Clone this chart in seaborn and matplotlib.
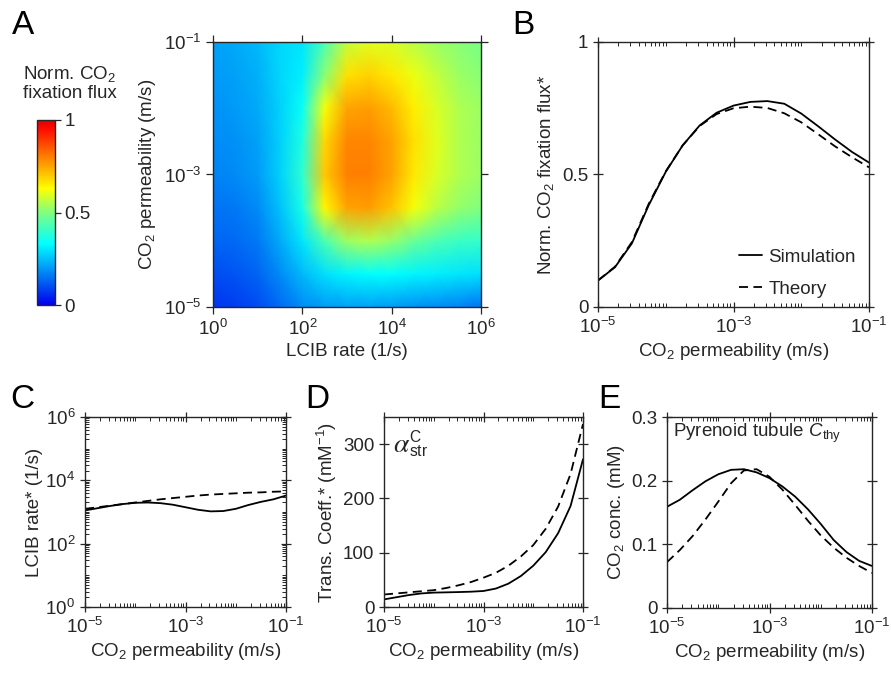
import numpy as np
import pandas as pd
import matplotlib
matplotlib.use("Agg")
import matplotlib.pyplot as plt
import seaborn as sns
from matplotlib.colors import LinearSegmentedColormap
from matplotlib.ticker import LogLocator, NullLocator, NullFormatter, FixedLocator, FixedFormatter

# ---------------- data ----------------
# Panel A heatmap grid (log10 axes), rows from permeability 1e-5 (bottom) to 1e-1 (top)
lcib_exp = [0, 0.5, 1, 1.5, 2, 2.5, 3, 3.5, 4, 4.5, 5, 5.5, 6]
perm_grid_exp = [-5, -4.5, -4, -3.5, -3, -2.5, -2, -1.5, -1]
flux_grid = [
    [0.07, 0.08, 0.10, 0.14, 0.18, 0.20, 0.21, 0.21, 0.20, 0.19, 0.18, 0.17, 0.15],
    [0.10, 0.11, 0.13, 0.18, 0.24, 0.29, 0.32, 0.33, 0.33, 0.32, 0.31, 0.30, 0.29],
    [0.13, 0.14, 0.16, 0.22, 0.30, 0.43, 0.53, 0.55, 0.52, 0.47, 0.43, 0.41, 0.40],
    [0.15, 0.16, 0.18, 0.25, 0.36, 0.64, 0.75, 0.76, 0.71, 0.62, 0.56, 0.52, 0.50],
    [0.17, 0.18, 0.20, 0.27, 0.39, 0.70, 0.80, 0.80, 0.75, 0.66, 0.59, 0.55, 0.53],
    [0.18, 0.19, 0.21, 0.27, 0.37, 0.68, 0.79, 0.79, 0.75, 0.67, 0.60, 0.55, 0.53],
    [0.19, 0.20, 0.22, 0.27, 0.34, 0.62, 0.75, 0.76, 0.72, 0.65, 0.59, 0.55, 0.53],
    [0.20, 0.21, 0.23, 0.28, 0.31, 0.51, 0.67, 0.69, 0.66, 0.61, 0.57, 0.53, 0.51],
    [0.21, 0.22, 0.24, 0.28, 0.30, 0.43, 0.57, 0.60, 0.59, 0.56, 0.53, 0.51, 0.49],
]

# Line panels: x positions (log10 of CO2 permeability, m/s)
perm_exp = [-5, -4.75, -4.5, -4.25, -4, -3.75, -3.5, -3.25, -3,
            -2.75, -2.5, -2.25, -2, -1.75, -1.5, -1.25, -1]

b_sim = [0.100, 0.150, 0.240, 0.385, 0.510, 0.610, 0.685, 0.733, 0.760,
         0.774, 0.777, 0.767, 0.730, 0.682, 0.632, 0.585, 0.545]
b_theory = [0.100, 0.152, 0.245, 0.390, 0.512, 0.610, 0.683, 0.728, 0.750,
            0.756, 0.751, 0.731, 0.697, 0.652, 0.606, 0.565, 0.527]

c_sim = [1122, 1318, 1549, 1778, 1950, 1995, 1905, 1698, 1413,
         1175, 1047, 1072, 1259, 1660, 2089, 2512, 3311]
c_theory = [1259, 1413, 1585, 1778, 1995, 2239, 2512, 2754, 3020,
            3311, 3548, 3715, 3890, 4074, 4169, 4365, 4467]

d_sim = [14, 18, 22, 25, 26.5, 27, 27.5, 28.2, 29.5,
         34, 43, 57, 76, 101, 136, 186, 272]
d_theory = [23, 25, 27, 29, 31, 35, 40, 46, 54,
            63, 76, 93, 114, 144, 185, 245, 337]

e_sim = [0.159, 0.170, 0.185, 0.199, 0.210, 0.217, 0.218, 0.213, 0.204,
         0.191, 0.175, 0.155, 0.132, 0.107, 0.088, 0.074, 0.066]
e_theory = [0.072, 0.091, 0.113, 0.139, 0.167, 0.196, 0.216, 0.218, 0.206,
            0.186, 0.162, 0.137, 0.114, 0.095, 0.079, 0.066, 0.055]

model_names = ["Simulation", "Theory"]

# ---------------- style ----------------
sns.set_theme(style="ticks")
plt.rcParams["font.family"] = ["Liberation Sans", "DejaVu Sans"]
plt.rcParams["mathtext.fontset"] = "custom"
plt.rcParams["mathtext.rm"] = "Liberation Sans"
plt.rcParams["mathtext.it"] = "Liberation Sans:italic"
plt.rcParams["mathtext.sf"] = "Liberation Sans"
plt.rcParams["mathtext.bf"] = "Liberation Sans:bold"
GREY = (0.15, 0.15, 0.15)
FS = 13.5
plt.rcParams.update({
    "axes.edgecolor": GREY, "axes.linewidth": 1.0,
    "xtick.color": GREY, "ytick.color": GREY,
    "text.color": GREY, "axes.labelcolor": GREY,
    "font.size": FS, "axes.labelsize": FS,
    "xtick.labelsize": FS, "ytick.labelsize": FS,
})

cmap = LinearSegmentedColormap.from_list("jetlike", [
    (0.00, (0.0, 0.0, 0.93)),
    (0.33, (0.0, 1.0, 1.0)),
    (0.50, (0.5, 1.0, 0.5)),
    (0.63, (1.0, 1.0, 0.0)),
    (0.80, (1.0, 0.5, 0.0)),
    (0.95, (1.0, 0.05, 0.0)),
    (1.00, (0.88, 0.0, 0.0)),
])

W, H = 891, 679
fig = plt.figure(figsize=(W / 100, H / 100), dpi=100)


def rect(x0, y0, x1, y1):
    return [x0 / W, 1 - y1 / H, (x1 - x0) / W, (y1 - y0) / H]


def log_ticks(v):
    return [r"$\mathdefault{10^{%d}}$" % int(round(np.log10(t))) for t in v]


def style_line_axis(ax):
    ax.tick_params(which="major", direction="inout", length=7, width=0.9,
                   top=True, right=True)
    ax.tick_params(which="minor", direction="in", length=3, width=0.7,
                   top=True, right=True)
    ax.set_xscale("log")
    ax.set_xlim(1e-5, 1e-1)
    xt = [1e-5, 1e-3, 1e-1]
    ax.xaxis.set_major_locator(FixedLocator(xt))
    ax.xaxis.set_major_formatter(FixedFormatter(log_ticks(xt)))
    ax.xaxis.set_minor_locator(LogLocator(base=10, subs=np.arange(1, 10), numticks=20))
    ax.xaxis.set_minor_formatter(NullFormatter())
    ax.set_xlabel("CO$_2$ permeability (m/s)", labelpad=3)
    for s in ax.spines.values():
        s.set_visible(True)


def draw_lines(ax, sim, theory, legend=False):
    perm = [10.0 ** e for e in perm_exp]
    df = pd.DataFrame({
        "perm": perm + perm,
        "val": list(sim) + list(theory),
        "model": [model_names[0]] * len(perm) + [model_names[1]] * len(perm),
    })
    sns.lineplot(data=df, x="perm", y="val", style="model",
                 dashes={"Simulation": "", "Theory": (5, 3)},
                 color="black", linewidth=1.3, estimator=None, sort=True,
                 legend=legend, ax=ax)


# ---------------- Panel A ----------------
axA = fig.add_axes(rect(213, 42, 481, 307))
X, Y = np.meshgrid([10.0 ** e for e in lcib_exp], [10.0 ** e for e in perm_grid_exp])
mesh = axA.pcolormesh(X, Y, np.array(flux_grid), cmap=cmap, vmin=0, vmax=1,
                      shading="gouraud", rasterized=True)
axA.set_xscale("log")
axA.set_yscale("log")
axA.set_xlim(1, 1e6)
axA.set_ylim(1e-5, 1e-1)
xtA = [1, 1e2, 1e4, 1e6]
ytA = [1e-5, 1e-3, 1e-1]
axA.xaxis.set_major_locator(FixedLocator(xtA))
axA.xaxis.set_major_formatter(FixedFormatter(log_ticks(xtA)))
axA.yaxis.set_major_locator(FixedLocator(ytA))
axA.yaxis.set_major_formatter(FixedFormatter(log_ticks(ytA)))
axA.xaxis.set_minor_locator(NullLocator())
axA.yaxis.set_minor_locator(NullLocator())
axA.tick_params(which="major", direction="out", length=5, width=0.9,
                top=True, right=True)
axA.set_xlabel("LCIB rate (1/s)", labelpad=3)
axA.set_ylabel("CO$_2$ permeability (m/s)", labelpad=4)

cax = fig.add_axes(rect(37, 120, 55, 305))
cb = fig.colorbar(mesh, cax=cax, ticks=[0, 0.5, 1])
cb.ax.set_yticklabels(["0", "0.5", "1"])
cb.outline.set_edgecolor(GREY)
cb.outline.set_linewidth(1.0)
cb.ax.tick_params(direction="out", length=4, width=0.9, pad=3)
cb.ax.minorticks_off()
fig.text(70 / W, 1 - 83 / H, "Norm. CO$_2$\nfixation flux", ha="center",
         va="center", fontsize=FS, linespacing=1.15, multialignment="center")

# ---------------- Panel B ----------------
axB = fig.add_axes(rect(598, 42, 869, 307))
draw_lines(axB, b_sim, b_theory, legend=True)
style_line_axis(axB)
axB.set_ylim(0, 1)
axB.yaxis.set_major_locator(FixedLocator([0, 0.5, 1]))
axB.yaxis.set_major_formatter(FixedFormatter(["0", "0.5", "1"]))
axB.set_ylabel("Norm. CO$_2$ fixation flux*", labelpad=4)
h, l = axB.get_legend_handles_labels()
axB.legend(h, l, loc="lower right", frameon=False, fontsize=FS,
           handlelength=1.2, handletextpad=0.35, labelspacing=0.8,
           borderaxespad=0.3, bbox_to_anchor=(1.0, -0.015))

# ---------------- Panel C ----------------
axC = fig.add_axes(rect(85, 417, 286, 607))
draw_lines(axC, c_sim, c_theory)
style_line_axis(axC)
axC.set_yscale("log")
axC.set_ylim(1, 1e6)
ytC = [1, 1e2, 1e4, 1e6]
axC.yaxis.set_major_locator(FixedLocator(ytC))
axC.yaxis.set_major_formatter(FixedFormatter(log_ticks(ytC)))
axC.yaxis.set_minor_locator(LogLocator(base=10, subs=np.arange(1, 10), numticks=20))
axC.yaxis.set_minor_formatter(NullFormatter())
axC.set_ylabel("LCIB rate* (1/s)", labelpad=2)

# ---------------- Panel D ----------------
axD = fig.add_axes(rect(384, 417, 583, 607))
draw_lines(axD, d_sim, d_theory)
style_line_axis(axD)
axD.set_ylim(0, 350)
axD.yaxis.set_major_locator(FixedLocator([0, 100, 200, 300]))
axD.yaxis.set_major_formatter(FixedFormatter(["0", "100", "200", "300"]))
axD.set_ylabel("Trans. Coeff.* (mM$^{-1}$)", labelpad=3)
axD.text(0.045, 0.855, r"$\alpha$", math_fontfamily="stix",
         transform=axD.transAxes, ha="left", va="center", fontsize=20)
axD.text(0.125, 0.855, r"${}^{\mathrm{C}}_{\mathrm{str}}$",
         transform=axD.transAxes, ha="left", va="center", fontsize=16)

# ---------------- Panel E ----------------
axE = fig.add_axes(rect(667, 417, 872, 608))
draw_lines(axE, e_sim, e_theory)
style_line_axis(axE)
axE.set_ylim(0, 0.3)
axE.yaxis.set_major_locator(FixedLocator([0, 0.1, 0.2, 0.3]))
axE.yaxis.set_major_formatter(FixedFormatter(["0", "0.1", "0.2", "0.3"]))
axE.set_ylabel("CO$_2$ conc. (mM)", labelpad=3)
axE.text(0.03, 0.915, r"Pyrenoid tubule $C_{\mathrm{thy}}$", transform=axE.transAxes,
         ha="left", va="center", fontsize=FS)

# ---------------- panel letters ----------------
for letter, x, y in [("A", 23, 26), ("B", 523, 25), ("C", 22, 399),
                     ("D", 317, 399), ("E", 609, 399)]:
    fig.text(x / W, 1 - y / H, letter, ha="center", va="center", fontsize=24,
             color="black")

fig.savefig("out.png", dpi=100)
